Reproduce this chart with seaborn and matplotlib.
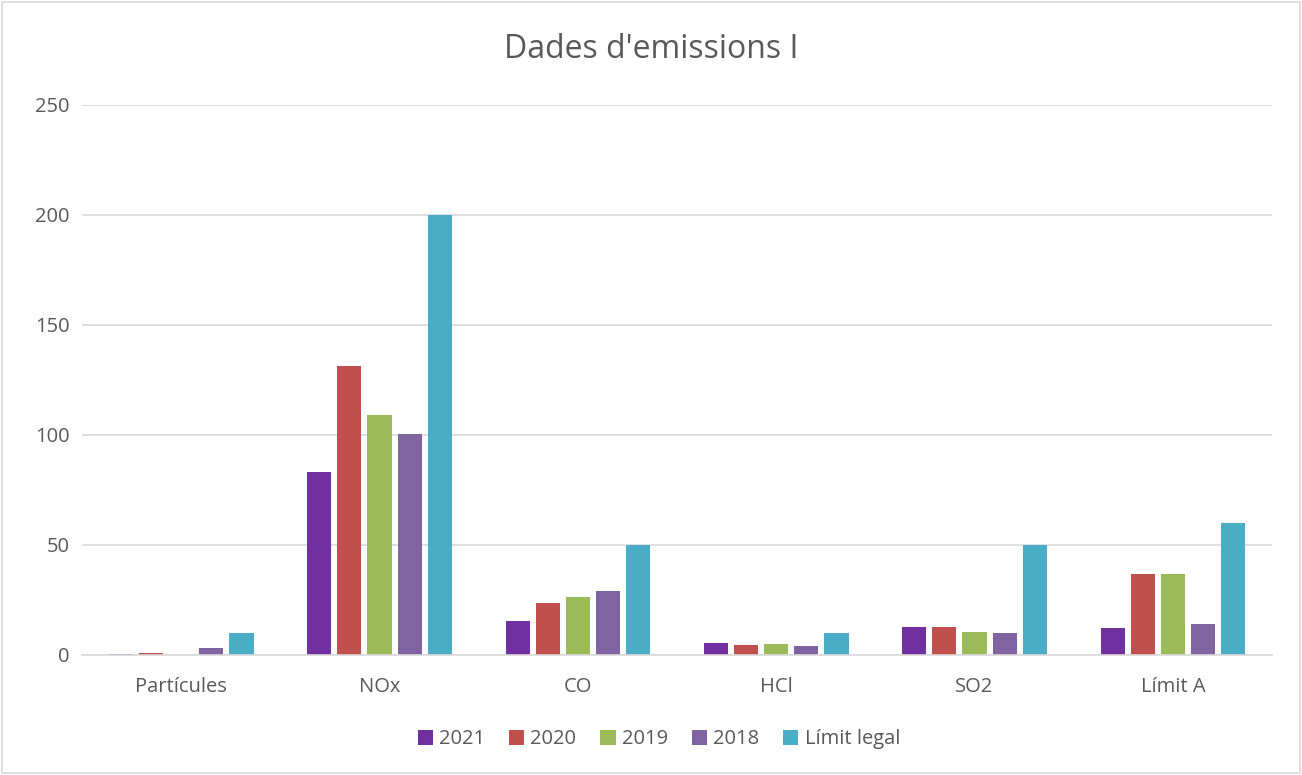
import matplotlib
matplotlib.use("Agg")
import matplotlib.pyplot as plt
import seaborn as sns
import pandas as pd
from matplotlib.patches import Rectangle

categories = ["Partícules", "NOx", "CO", "HCl", "SO2", "Límit A"]
series_names = ["2021", "2020", "2019", "2018", "Límit legal"]
v2021 = [0.5, 83, 15.5, 5.2, 12.6, 12.3]
v2020 = [0.8, 131.5, 23.7, 4.5, 12.6, 36.8]
v2019 = [0.0, 109, 26.4, 5.1, 10.5, 36.8]
v2018 = [3.0, 100.3, 29, 4.1, 10.0, 14.0]
vlimit = [10, 200, 50, 10, 50, 60]
colors = ["#7030A0", "#C0504D", "#9BBB59", "#8064A2", "#4BACC6"]

rows = []
for name, vals in zip(series_names, [v2021, v2020, v2019, v2018, vlimit]):
    for c, v in zip(categories, vals):
        rows.append({"cat": c, "serie": name, "val": v})
df = pd.DataFrame(rows)

sns.set_theme(style="white")
plt.rcParams["font.family"] = ["Open Sans", "DejaVu Sans"]

fig = plt.figure(figsize=(13.02, 7.75), dpi=100)
ax = fig.add_axes([0.063, 0.155, 0.914, 0.7097])
sns.barplot(data=df, x="cat", y="val", hue="serie", order=categories,
            hue_order=series_names, palette=colors, width=0.76, gap=0.2,
            saturation=1, linewidth=0, ax=ax, legend=True)

ax.set_ylim(0, 250)
ax.set_yticks([0, 50, 100, 150, 200, 250])
ax.yaxis.grid(True, color="#D9D9D9", linewidth=1.2)
ax.set_axisbelow(True)
for s in ["top", "right", "left"]:
    ax.spines[s].set_visible(False)
ax.spines["bottom"].set_color("#D9D9D9")
ax.spines["bottom"].set_linewidth(1.2)
ax.tick_params(axis="both", length=0, labelsize=14.5, colors="#595959")
ax.tick_params(axis="x", pad=16)
ax.tick_params(axis="y", pad=9)
ax.set_xlabel("")
ax.set_ylabel("")
ax.set_xlim(-0.5, 5.5)

fig.suptitle("Dades d'emissions I", y=0.958, fontsize=23, color="#595959")

handles, labels = ax.get_legend_handles_labels()
ax.legend_.remove()
fig.legend(handles, labels, loc="center", bbox_to_anchor=(0.506, 0.046), ncol=5,
           frameon=False, fontsize=14.5, labelcolor="#595959",
           handlelength=0.75, handleheight=0.75, handletextpad=0.3, columnspacing=1.2)

fig.patches.append(Rectangle((0.0015, 0.002), 0.997, 0.996, transform=fig.transFigure,
                             fill=False, edgecolor="#D9D9D9", linewidth=1.2))
fig.savefig("out.png", dpi=100)
